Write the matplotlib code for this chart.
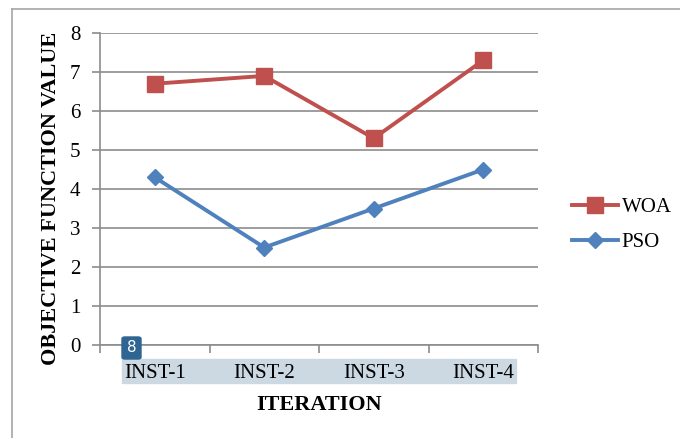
import numpy as np
import matplotlib.pyplot as plt
from matplotlib.patches import Rectangle, FancyBboxPatch

# data
categories = ['INST-1', 'INST-2', 'INST-3', 'INST-4']
woa = [6.7, 6.9, 5.3, 7.3]
pso = [4.3, 2.5, 3.5, 4.5]
yticks = [0, 1, 2, 3, 4, 5, 6, 7, 8]

plt.rcParams['font.family'] = ['Liberation Serif', 'DejaVu Serif']

fig = plt.figure(figsize=(6.8, 4.38), dpi=100)
W, H = 680, 438
# plot area in pixels: left 100, right 538, top 33, bottom 345
ax = fig.add_axes([100 / W, 1 - 345 / H, 438 / W, 312 / H])

x = np.arange(len(categories))
ax.plot(x, woa, color='#C0504D', lw=2.8, marker='s', ms=11, label='WOA', zorder=3)
ax.plot(x, pso, color='#4F81BD', lw=2.8, marker='D', ms=8.5, label='PSO', zorder=3)

ax.set_xlim(-0.5, 3.5)
ax.set_ylim(0, 8)
ax.set_yticks(yticks)
ax.yaxis.grid(True, color='#8c8c8c', lw=1.2)
ax.set_axisbelow(True)
for s in ['top', 'right']:
    ax.spines[s].set_visible(False)
for s in ['left', 'bottom']:
    ax.spines[s].set_color('#8c8c8c')
    ax.spines[s].set_linewidth(1.2)

# x ticks at category boundaries, labels centred
ax.set_xticks(np.arange(-0.5, 4, 1))
ax.set_xticklabels([])
ax.set_xticks(x, minor=True)
ax.set_xticklabels(categories, minor=True, fontsize=15)
ax.tick_params(axis='x', which='minor', length=0, pad=14)
ax.tick_params(axis='x', which='major', length=6, color='#8c8c8c', width=1.2)
ax.tick_params(axis='y', length=6, color='#8c8c8c', width=1.2, labelsize=15, pad=8)

ax.set_xlabel('ITERATION', fontsize=16, fontweight='bold', labelpad=8)
ax.set_ylabel('OBJECTIVE FUNCTION VALUE', fontsize=16, fontweight='bold')
ax.yaxis.set_label_coords(-39 / 438, 0.47)

# light blue highlight behind x tick labels
ax.add_patch(Rectangle((122 / W, 1 - 383 / H), 394 / W, 24 / H, transform=fig.transFigure,
                       color='#ccd9e3', zorder=0, clip_on=False))
# small "8" badge
ax.add_patch(FancyBboxPatch((122 / W, 1 - 359 / H), 19 / W, 22 / H,
                            boxstyle='round,pad=0,rounding_size=0.004',
                            transform=fig.transFigure, color='#2e6592', zorder=5, clip_on=False))
fig.text(131.5 / W, 1 - 348 / H, '8', color='white', fontsize=11,
         family='DejaVu Sans', ha='center', va='center', zorder=6)

# outer chart border (left and top visible)
fig.add_artist(plt.Line2D([12 / W, 12 / W], [0, 1 - 9 / H], color='#a6a6a6', lw=1.2,
                          transform=fig.transFigure))
fig.add_artist(plt.Line2D([12 / W, 1], [1 - 9 / H, 1 - 9 / H], color='#a6a6a6', lw=1.2,
                          transform=fig.transFigure))

leg = ax.legend(loc='center left', bbox_to_anchor=(553 / W, 1 - 225 / H),
                bbox_transform=fig.transFigure, frameon=False, fontsize=15,
                handlelength=2.2, handletextpad=0.2, labelspacing=0.75)

fig.savefig('out.png', dpi=100)
